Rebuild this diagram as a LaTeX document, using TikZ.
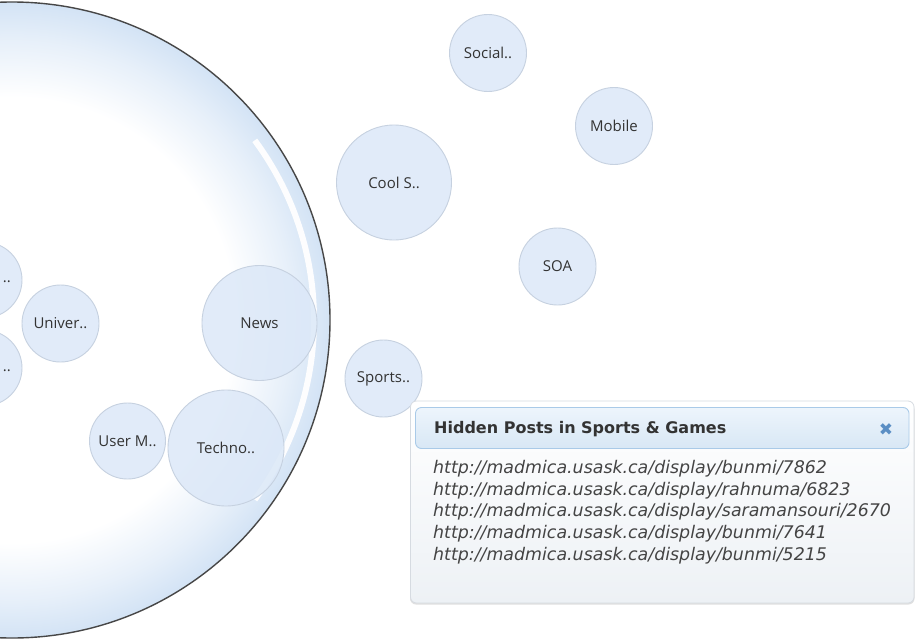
\documentclass[tikz,border=0pt]{standalone}
\usepackage{fontspec}
\setmainfont{Open Sans}
\newfontfamily\popfont{DejaVu Sans}
\usetikzlibrary{shadings}

\definecolor{bubbleblue}{HTML}{D3E3F5}
\definecolor{bubbleline}{HTML}{474747}
\definecolor{catfill}{HTML}{DCE8F8}
\definecolor{catline}{HTML}{C6D1E0}
\definecolor{labeltext}{HTML}{333333}
\definecolor{panelline}{HTML}{D6DBE1}
\definecolor{panelbottom}{HTML}{EDF1F5}
\definecolor{headtop}{HTML}{EDF5FC}
\definecolor{headbottom}{HTML}{D8E7F5}
\definecolor{headline}{HTML}{A9CAE8}
\definecolor{closeblue}{HTML}{5A8EC4}
\definecolor{linktext}{HTML}{444444}

% white interior fading to pale blue near the rim
\pgfdeclareradialshading{bubbleshade}{\pgfpoint{0bp}{0bp}}{%
  color(0bp)=(white); color(17.5bp)=(white);
  color(22bp)=(bubbleblue!55); color(25bp)=(bubbleblue); color(50bp)=(bubbleblue)}

\tikzset{
  cat/.style={circle, draw=catline, line width=0.9pt, fill=catfill, fill opacity=0.85,
    text opacity=1, text=labeltext, inner sep=0pt, font=\fontsize{15}{16}\selectfont},
  catlabel/.style={text=labeltext, font=\fontsize{15}{16}\selectfont, inner sep=0pt},
  linkline/.style={anchor=base west, inner sep=0pt, text=linktext,
    font=\popfont\itshape\fontsize{17.4}{20}\selectfont},
}

\begin{document}
\begin{tikzpicture}[x=1pt,y=-1pt]
\useasboundingbox (0,0) rectangle (915,642);
\fill[white] (0,0) rectangle (915,642);

% the open category bubble
\begin{scope}
  \clip (0,0) rectangle (915,642);
  \shade[shading=bubbleshade] (12,320) circle[radius=318pt];
  \draw[white, line width=6pt, opacity=0.95]
    (12,320) ++(-36.5:302pt) arc[start angle=-36.5, end angle=36.5, radius=302pt];
  \draw[bubbleline, line width=1.4pt] (12,320) circle[radius=318pt];

  % categories inside the bubble
  \node[cat, minimum size=76pt] (leftA) at (-16,280) {};
  \node[cat, minimum size=76pt] (leftB) at (-16,368) {};
  \node[catlabel, anchor=east] (leftAlabel) at (11,282) {..};
  \node[catlabel, anchor=east] (leftBlabel) at (11,371) {..};
  \node[cat, minimum size=77pt] (univer) at (60.5,323.5) {Univer..};
  \node[cat, minimum size=115pt] (news) at (259.5,323) {News};
  \node[cat, minimum size=76pt] (userm) at (127.5,441) {User M..};
  \node[cat, minimum size=116pt] (techno) at (226,448) {Techno..};
\end{scope}

% categories outside the bubble
\node[cat, minimum size=77pt] (social) at (488,53) {Social..};
\node[cat, minimum size=77pt] (mobile) at (614,126) {Mobile};
\node[cat, minimum size=115pt] (cools) at (394,182.5) {Cool S..};
\node[cat, minimum size=77pt] (soa) at (557.5,266.5) {SOA};
\node[cat, minimum size=77pt] (sports) at (383.5,378.5) {Sports..};

% hidden posts panel
\fill[black!12, rounded corners=6pt] (410,403) rectangle (914.5,604.5);
\shade[top color=white, bottom color=panelbottom, draw=panelline, line width=0.8pt,
  rounded corners=6pt] (410.5,401) rectangle (914,603);
\shade[top color=headtop, bottom color=headbottom, draw=headline, line width=0.9pt,
  rounded corners=6pt] (415.5,407.5) rectangle (909,448.5);
\node[anchor=base west, inner sep=0pt, text=labeltext,
  font=\popfont\bfseries\fontsize{16}{18}\selectfont] (title) at (434,433.5)
  {Hidden Posts in Sports \& Games};
\node[inner sep=0pt, text=closeblue, font=\popfont\bfseries\fontsize{17}{18}\selectfont]
  (close) at (886,429.5) {✖};

\node[linkline] (link1) at (433,473.5) {http://madmica.usask.ca/display/bunmi/7862};
\node[linkline] (link2) at (433,495.2) {http://madmica.usask.ca/display/rahnuma/6823};
\node[linkline] (link3) at (433,516.9) {http://madmica.usask.ca/display/saramansouri/2670};
\node[linkline] (link4) at (433,538.6) {http://madmica.usask.ca/display/bunmi/7641};
\node[linkline] (link5) at (433,560.3) {http://madmica.usask.ca/display/bunmi/5215};
\end{tikzpicture}
\end{document}
